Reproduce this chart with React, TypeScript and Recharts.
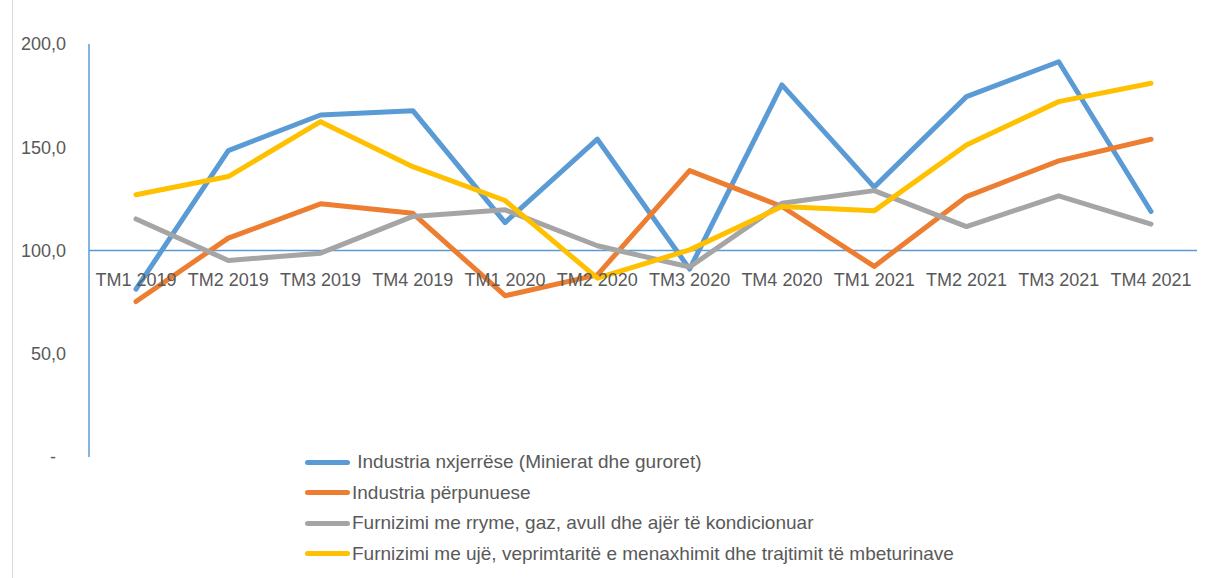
import { LineChart, Line, XAxis, YAxis, ReferenceLine } from 'recharts';

// Tremujorët
const quarters = [
  'TM1 2019', 'TM2 2019', 'TM3 2019', 'TM4 2019',
  'TM1 2020', 'TM2 2020', 'TM3 2020', 'TM4 2020',
  'TM1 2021', 'TM2 2021', 'TM3 2021', 'TM4 2021',
];

const nxjerrese = [81.3, 148.4, 165.6, 167.7, 113.5, 153.9, 91.0, 180.2, 130.7, 174.5, 191.4, 118.9];
const perpunuese = [75.3, 106.0, 122.6, 118.0, 78.1, 88.2, 138.7, 121.3, 92.3, 126.1, 143.4, 153.9];
const rryme = [115.3, 95.2, 98.7, 116.5, 119.7, 102.3, 92.0, 122.9, 129.0, 111.6, 126.5, 112.8];
const uje = [127.0, 135.8, 162.4, 140.6, 124.2, 86.6, 100.3, 121.3, 119.2, 151.1, 172.1, 181.0];

const yTicks = [0, 50, 100, 150, 200];

const series = [
  { key: 'nxjerrese', name: ' Industria nxjerrëse (Minierat dhe guroret)', values: nxjerrese, color: '#5B9BD5' },
  { key: 'perpunuese', name: 'Industria përpunuese', values: perpunuese, color: '#ED7D31' },
  { key: 'rryme', name: 'Furnizimi me rryme, gaz, avull dhe ajër të kondicionuar', values: rryme, color: '#A5A5A5' },
  { key: 'uje', name: 'Furnizimi me ujë, veprimtaritë e menaxhimit dhe trajtimit të mbeturinave', values: uje, color: '#FFC000' },
];

const data = quarters.map((q, i) => {
  const row: Record<string, string | number> = { q };
  series.forEach((s) => {
    row[s.key] = s.values[i];
  });
  return row;
});

const FONT = '"Liberation Sans", Arial, sans-serif';
const TEXT = '#595959';
const AXIS = '#5B9BD5';

const W = 1211;
const H = 578;
const TOP = 44;
const BOTTOM = 120;
const PLOT_H = H - TOP - BOTTOM - 1;

// étiquettes des catégories sous la ligne des 100
function QuarterTick(props: any) {
  const { x, y, payload } = props;
  return (
    <text
      x={x}
      y={y - PLOT_H / 2 + 29}
      textAnchor="middle"
      dominantBaseline="central"
      fill={TEXT}
      fontSize={18}
      fontFamily={FONT}
    >
      {payload.value}
    </text>
  );
}

const fmt = (v: number) => (v === 0 ? '-\u00a0\u00a0' : v.toFixed(1).replace('.', ','));

export default function App() {
  return (
    <div style={{ position: 'absolute', left: 0, top: 0, width: W, height: H, background: '#fff' }}>
      <div style={{ position: 'absolute', left: 12, top: 0, width: 1, height: H, background: '#d9d9d9' }} />
      <LineChart width={W} height={H} data={data} margin={{ top: TOP, right: 14, left: 0, bottom: BOTTOM }}>
        <XAxis
          dataKey="q"
          axisLine={false}
          tickLine={false}
          tickSize={0}
          tickMargin={0}
          height={1}
          interval={0}
          padding={{ left: 47, right: 46 }}
          tick={<QuarterTick />}
        />
        <YAxis
          domain={[0, 200]}
          ticks={yTicks}
          width={89}
          axisLine={{ stroke: AXIS, strokeWidth: 1.5 }}
          tickLine={false}
          tickSize={0}
          tickMargin={23}
          tickFormatter={fmt}
          tick={{ fill: TEXT, fontSize: 18, fontFamily: FONT }}
        />
        <ReferenceLine y={100} stroke={AXIS} strokeWidth={1.5} />
        {series.map((s) => (
          <Line
            key={s.key}
            dataKey={s.key}
            name={s.name}
            type="linear"
            stroke={s.color}
            strokeWidth={5}
            strokeLinecap="round"
            strokeLinejoin="round"
            dot={false}
            activeDot={false}
            isAnimationActive={false}
          />
        ))}
      </LineChart>
      {/* Legjenda */}
      <div style={{ position: 'absolute', left: 305, top: 447, fontFamily: FONT, fontSize: 19, color: TEXT }}>
        {series.map((s) => (
          <div key={s.key} style={{ display: 'flex', alignItems: 'center', height: 30.5, whiteSpace: 'pre' }}>
            <div style={{ width: 45, height: 5, borderRadius: 3, background: s.color, marginRight: 2 }} />
            <span>{s.name}</span>
          </div>
        ))}
      </div>
    </div>
  );
}
